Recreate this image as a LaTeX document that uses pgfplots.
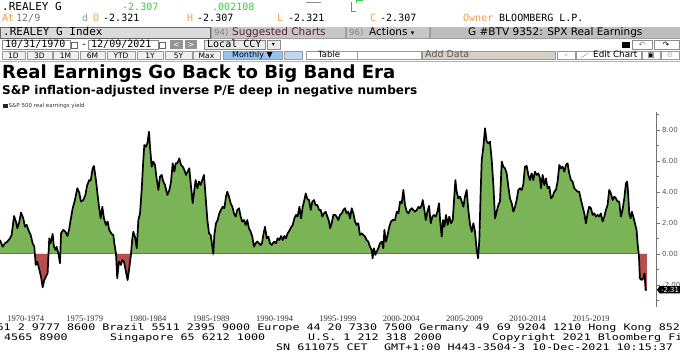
\documentclass[border=0pt]{standalone}
\usepackage{fontspec}
\setmainfont{DejaVu Sans}
\newfontfamily\bbg{DejaVu Sans Mono}
\newfontfamily\serifx{Liberation Serif}
\usepackage{pgfplots}
\usepackage{pgfplotstable}
\usetikzlibrary{shapes.symbols}
\pgfplotsset{compat=1.18}
\definecolor{bbgreen}{RGB}{122,180,86}
\definecolor{bbred}{RGB}{181,80,78}
\definecolor{bbor}{RGB}{245,158,70}
\definecolor{bbtick}{RGB}{60,205,60}
\definecolor{bbmaroon}{RGB}{90,35,50}
\newcommand\sz[1]{\fontsize{#1}{#1}\selectfont}
\newcommand\mono[1]{\fontsize{#1}{#1}\bbg}
\newcommand\bb[1]{\scalebox{1.3}[1]{\fontsize{9}{9}\bbg #1}}

\pgfplotstableread{
year val
1970.81 0.90
1971.02 0.47
1971.20 0.69
1971.39 0.80
1971.60 1.01
1971.73 1.23
1971.92 2.45
1972.07 2.09
1972.18 1.66
1972.34 2.09
1972.47 2.67
1972.65 2.30
1972.78 1.76
1972.92 1.88
1973.05 1.55
1973.23 1.23
1973.39 0.69
1973.52 0.47
1973.63 -0.71
1973.76 -0.49
1973.92 -1.03
1974.05 -1.46
1974.18 -2.15
1974.31 -1.68
1974.44 -1.46
1974.57 -1.25
1974.70 1.01
1974.81 0.69
1974.97 1.29
1975.07 0.47
1975.20 0.26
1975.28 0.47
1975.42 0.04
1975.55 -0.60
1975.63 1.33
1975.81 1.55
1975.97 1.44
1976.13 1.16
1976.26 1.55
1976.39 2.19
1976.55 2.95
1976.70 3.38
1976.92 4.24
1977.07 3.96
1977.20 3.38
1977.39 3.48
1977.55 3.80
1977.70 4.45
1977.86 4.77
1977.97 4.73
1978.13 5.53
1978.23 5.68
1978.39 4.77
1978.52 3.80
1978.63 3.05
1978.76 2.30
1978.89 3.05
1979.02 2.30
1979.18 1.87
1979.31 2.09
1979.44 1.55
1979.63 1.29
1979.76 1.23
1979.84 0.69
1979.97 0.04
1980.07 -1.57
1980.20 -0.49
1980.36 -0.71
1980.47 -0.39
1980.60 -0.49
1980.73 -1.03
1980.89 -1.68
1981.02 -0.92
1981.15 -0.06
1981.25 0.90
1981.34 1.44
1981.47 1.12
1981.61 0.37
1981.74 2.19
1981.87 2.62
1982.00 4.13
1982.13 6.06
1982.21 7.03
1982.34 6.92
1982.45 7.14
1982.58 7.89
1982.66 6.92
1982.79 5.63
1982.92 5.96
1983.05 5.74
1983.18 4.88
1983.32 4.13
1983.45 4.99
1983.58 5.10
1983.71 4.67
1983.84 4.45
1984.03 3.81
1984.19 4.13
1984.32 4.67
1984.45 5.85
1984.58 5.31
1984.69 5.85
1984.82 5.85
1984.97 6.17
1985.11 5.74
1985.24 5.63
1985.37 5.42
1985.50 5.10
1985.63 5.31
1985.76 5.53
1985.90 4.34
1986.03 3.27
1986.16 4.13
1986.26 4.77
1986.40 4.24
1986.53 4.67
1986.66 4.45
1986.79 4.77
1986.92 5.10
1987.05 3.70
1987.19 2.19
1987.32 1.33
1987.45 1.23
1987.58 0.47
1987.66 0.00
1987.74 1.23
1987.87 1.98
1988.00 2.19
1988.13 2.62
1988.26 2.84
1988.40 3.05
1988.53 2.95
1988.66 3.70
1988.76 4.02
1988.90 3.70
1989.03 3.27
1989.16 3.05
1989.29 2.62
1989.42 2.41
1989.55 2.84
1989.69 2.95
1989.82 2.41
1989.95 2.09
1990.08 2.19
1990.21 1.87
1990.34 2.19
1990.47 1.66
1990.61 1.44
1990.74 1.12
1990.87 0.47
1991.00 0.69
1991.13 0.80
1991.26 0.69
1991.40 0.58
1991.50 0.69
1991.61 1.23
1991.74 1.76
1991.88 1.01
1992.01 1.12
1992.14 0.69
1992.27 0.58
1992.46 0.80
1992.61 0.69
1992.74 1.01
1992.88 0.90
1993.01 1.16
1993.14 0.90
1993.27 1.16
1993.40 1.01
1993.53 1.33
1993.67 1.51
1993.80 1.72
1993.93 1.87
1994.06 2.30
1994.19 2.52
1994.32 2.41
1994.46 3.05
1994.59 2.30
1994.72 3.05
1994.85 3.48
1994.96 3.91
1995.09 3.53
1995.22 3.48
1995.35 2.84
1995.48 3.38
1995.61 3.48
1995.74 3.16
1995.88 3.16
1996.01 2.84
1996.14 2.84
1996.27 2.41
1996.40 2.62
1996.53 2.73
1996.67 2.41
1996.80 2.09
1996.88 1.66
1997.01 1.98
1997.14 2.52
1997.27 2.52
1997.40 2.41
1997.53 2.19
1997.67 2.52
1997.80 2.62
1997.93 2.84
1998.06 2.95
1998.19 2.62
1998.32 2.73
1998.46 2.30
1998.59 2.95
1998.72 2.62
1998.85 2.09
1998.98 1.87
1999.11 1.98
1999.24 1.23
1999.38 1.33
1999.51 1.23
1999.64 1.12
1999.77 0.90
1999.90 0.80
2000.03 0.47
2000.17 0.26
2000.24 -0.28
2000.35 0.37
2000.46 -0.06
2000.56 0.15
2000.69 0.37
2000.82 0.69
2000.96 0.80
2001.09 0.37
2001.17 1.55
2001.30 0.80
2001.43 1.23
2001.56 1.76
2001.69 2.09
2001.82 2.19
2002.01 2.19
2002.15 2.73
2002.28 2.62
2002.41 3.38
2002.54 3.27
2002.67 4.13
2002.80 3.16
2002.94 2.73
2003.07 2.62
2003.20 2.84
2003.33 2.95
2003.46 2.84
2003.59 2.73
2003.73 2.84
2003.86 3.05
2003.99 2.95
2004.12 3.16
2004.20 3.48
2004.33 2.84
2004.44 2.19
2004.57 2.73
2004.70 3.10
2004.83 1.98
2004.96 2.41
2005.09 2.52
2005.23 2.41
2005.36 2.73
2005.49 3.27
2005.57 2.19
2005.70 1.12
2005.80 2.19
2005.91 1.76
2006.04 2.52
2006.17 1.87
2006.30 2.41
2006.44 1.98
2006.57 2.19
2006.70 3.81
2006.78 4.77
2006.88 4.02
2007.01 3.59
2007.15 3.70
2007.28 3.38
2007.41 3.05
2007.54 3.70
2007.67 4.13
2007.80 2.84
2007.94 1.87
2008.07 1.44
2008.20 1.98
2008.33 1.44
2008.46 0.26
2008.57 -0.28
2008.67 0.90
2008.78 4.13
2008.86 6.06
2008.99 6.92
2009.12 8.11
2009.25 7.25
2009.38 7.14
2009.51 7.25
2009.65 6.06
2009.78 4.45
2009.91 2.30
2010.04 2.73
2010.17 3.16
2010.30 3.38
2010.44 5.96
2010.57 5.63
2010.70 5.53
2010.83 5.20
2010.96 4.34
2011.09 3.59
2011.23 3.27
2011.36 2.73
2011.49 3.05
2011.62 3.48
2011.75 4.13
2011.88 4.24
2012.01 4.13
2012.14 4.45
2012.27 5.63
2012.41 5.68
2012.54 5.10
2012.67 4.77
2012.80 5.20
2012.93 4.77
2013.06 5.31
2013.20 5.10
2013.33 5.20
2013.46 4.88
2013.54 4.24
2013.67 5.10
2013.80 4.45
2013.93 4.88
2014.06 4.24
2014.20 4.34
2014.33 3.59
2014.46 3.70
2014.59 4.02
2014.72 4.13
2014.85 4.67
2014.99 5.74
2015.12 5.53
2015.25 5.63
2015.38 5.31
2015.51 5.74
2015.64 5.85
2015.77 5.20
2015.91 4.77
2016.04 4.67
2016.17 4.24
2016.30 4.13
2016.43 4.02
2016.56 4.02
2016.70 3.48
2016.83 3.05
2016.96 2.62
2017.09 1.98
2017.22 2.62
2017.35 3.05
2017.49 2.95
2017.62 2.52
2017.75 2.62
2017.88 2.41
2018.01 2.52
2018.14 2.41
2018.27 2.62
2018.41 2.09
2018.54 2.41
2018.67 2.84
2018.80 3.16
2018.93 4.13
2019.06 3.91
2019.20 3.48
2019.33 3.70
2019.46 3.59
2019.59 3.38
2019.72 3.38
2019.85 2.41
2019.98 2.84
2020.12 3.59
2020.25 4.56
2020.35 4.67
2020.43 3.81
2020.51 2.62
2020.62 2.30
2020.72 2.73
2020.83 2.41
2020.96 1.98
2021.09 1.55
2021.17 0.69
2021.28 -0.17
2021.35 -1.57
2021.49 -1.68
2021.62 -1.57
2021.72 -1.25
2021.80 -2.32
2021.90 -2.31
}\realey

\begin{document}
\begin{tikzpicture}[T/.style={anchor=base west, inner sep=0pt}]
\useasboundingbox (0pt,0pt) rectangle (680pt,363pt);
\begin{scope}[x=1pt,y=1pt]
\fill[white] (0,0) rectangle (680,363);

% ---- Row 1
\node[T] at (2,352) {\mono{11}.REALEY G};
\node[T, text=bbtick] at (122,352) {\mono{10}-2.307};
\node[T, text=bbtick] at (212,352) {\mono{10}.002108};
\draw[black!45] (306,361) -- (321,361);
\draw[red!70, line width=0.6pt] (351.7,360.5) -- (351.7,351.3) -- (356,351.3);
\draw[bbtick, line width=0.6pt] (356,359.5) -- (356,362.3) -- (363,362.3);

% ---- Row 2
\node[T, text=bbor] at (2,341) {\mono{10}At};
\node[T, text=black!55] at (16,341) {\mono{10}12/9};
\node[T, text=black!40] at (82,341) {\mono{10}d};
\node[T, text=bbor] at (93,341) {\mono{10}O};
\node[T] at (103,341) {\mono{10}-2.321};
\node[T, text=bbor] at (187,341) {\mono{10}H};
\node[T] at (197,341) {\mono{10}-2.307};
\node[T, text=bbor] at (277,341) {\mono{10}L};
\node[T] at (288,341) {\mono{10}-2.321};
\node[T, text=bbor] at (370,341) {\mono{10}C};
\node[T] at (380,341) {\mono{10}-2.307};
\node[T, text=bbor] at (463,341) {\mono{10}Owner};
\node[T] at (499,341) {\mono{10}BLOOMBERG L.P.};

% ---- Row 3
\fill[black!38] (0,324) rectangle (680,336);
\filldraw[fill=black!14, draw=black!60] (0.5,324.5) rectangle (210,335.5);
\node[T] at (3,327) {\mono{11}.REALEY G Index};
\fill[black!22] (212,324.5) rectangle (345,335.5);
\node[T, text=black!50] at (214,327) {\sz{8.5}94)};
\node[T, text=bbmaroon] at (232,327) {\sz{10.5}Suggested Charts};
\fill[black!22] (347,324.5) rectangle (429,335.5);
\node[T, text=black!50] at (349,327) {\sz{8.5}96)};
\node[T] at (369,327) {\sz{10.5}Actions {\sz{7}▾}};
\fill[black!26] (431,324.5) rectangle (680,335.5);
\node[T] at (468,327) {\sz{10.5}G \#BTV 9352: SPX Real Earnings};

% ---- Row 4
\draw[black!45, fill=white] (2,313.5) rectangle (70,322.5);
\node[T] at (5,315.5) {\mono{10}10/31/1970};
\draw[black!60] (71,314.5) rectangle (77,321);
\node[T] at (81,315.5) {\mono{10}-};
\draw[black!45, fill=white] (88,313.5) rectangle (158,322.5);
\node[T] at (91,315.5) {\mono{10}12/09/2021};
\draw[black!60] (159,314.5) rectangle (165,321);
\fill[black!42] (170,313.5) rectangle (183,322.5);
\node[text=white] at (176.5,318) {\sz{8}<};
\fill[black!42] (185,313.5) rectangle (197,322.5);
\node[text=white] at (191,318) {\sz{8}>};
\filldraw[fill=black!8, draw=black!45] (204,313.5) rectangle (265,322.5);
\node[T] at (207,315.5) {\mono{10}Local CCY};
\filldraw[fill=black!8, draw=black!45] (267,313.5) rectangle (280,322.5);
\node at (273.5,318) {\sz{6}▾};
\fill[black] (622,315) rectangle (630,320.5);
\draw[black!45] (632,313.5) rectangle (652,322.5);
\node[text=black!50] at (642,318) {\sz{8}↶};
\draw[black!45] (654,313.5) rectangle (679,322.5);
\node at (666,318) {\sz{8}↷};

% ---- Row 5
\foreach \a/\b/\t in {2/25/1D,27/52/3D,53/78/1M,80/105/6M,107/135/YTD,137/163/1Y,165/192/5Y,193/220/Max}{
  \filldraw[fill=black!6, draw=black!40] (\a,303.5) rectangle (\b,311.5);
  \node at ({(\a+\b)/2},307.5) {\sz{7.5}\t};
}
\filldraw[fill={rgb,255:red,150;green,195;blue,240}, draw=black!40] (223,303.5) rectangle (282,311.5);
\node at (252.5,307.5) {\sz{8}Monthly ▼};
\filldraw[fill={rgb,255:red,190;green,215;blue,245}, draw=black!40] (284,303.5) rectangle (302,311.5);
\draw[black!40] (306,303.5) rectangle (357,311.5);
\node[T] at (318,305) {\sz{8.5}Table};
\draw[black!40] (357,303.5) rectangle (421,311.5);
\filldraw[fill={rgb,255:red,214;green,209;blue,200}, draw=black!40] (422,303.5) rectangle (555,311.5);
\node[T, text=black!65] at (425,305) {\sz{9.5}Add Data};
\draw[black!40] (557,303.5) rectangle (575,311.5);
\node[text=black!30] at (566,307.5) {\sz{7}«};
\draw[black!40] (576,303.5) rectangle (641,311.5);
\draw[black!45] (581,305) -- (588,310);
\node[T] at (593,305) {\sz{8.8}Edit Chart};
\draw[black!40] (642,303.5) rectangle (660,311.5);
\node at (651,307.5) {\sz{7}▣};
\draw[black!40] (661,303.5) rectangle (679.5,311.5);
\node[text=black!30] at (670,307.5) {\sz{7}⚙};
\draw[black!30] (0,302) -- (680,302);

% ---- Titles
\node[T] at (2,284) {\resizebox{393pt}{!}{\bfseries Real Earnings Go Back to Big Band Era}};
\node[T] at (2,268.7) {\resizebox{415pt}{!}{\bfseries S\&P inflation-adjusted inverse P/E deep in negative numbers}};
\fill[black!85] (3,254.5) rectangle (7.5,259);
\node[anchor=west, inner sep=0pt, text=black!80] at (8.5,256.7) {\sz{5.5}S\&P 500 real earnings yield};

% ---- Footer rows
\node[T] at (-3.5,32) {\bb{61 2 9777 8600 Brazil 5511 2395 9000 Europe 44 20 7330 7500 Germany 49 69 9204 1210 Hong Kong 852 2977 6000}};
\node[T] at (4,22) {\bb{4565 8900}};
\node[T] at (110,22) {\bb{Singapore 65 6212 1000}};
\node[T] at (308,22) {\bb{U.S. 1 212 318 2000}};
\node[T] at (492,22) {\bb{Copyright 2021 Bloomberg Finance L.P.}};
\node[T] at (276,12) {\bb{SN 611075 CET}};
\node[T] at (384,12) {\bb{GMT+1:00 H443-3504-3 10-Dec-2021 10:15:37}};
\end{scope}

% ---- Chart: positive fill (clipped at zero)
\begin{axis}[
  at={(0pt,109.01pt)}, anchor=south west,
  scale only axis, width=656.7pt, height=141.99pt,
  xmin=1970.81, xmax=2022.68, ymin=0, ymax=9.16,
  hide axis,
]
\addplot[fill=bbgreen, draw=none] table[x=year, y=val] {\realey} -- (axis cs:2021.90,0) -- (axis cs:1970.81,0) -- cycle;
\end{axis}
% ---- negative fill (clipped at zero)
\begin{axis}[
  at={(0pt,56pt)}, anchor=south west,
  scale only axis, width=656.7pt, height=53.01pt,
  xmin=1970.81, xmax=2022.68, ymin=-3.42, ymax=0,
  hide axis,
]
\addplot[fill=bbred, draw=none] table[x=year, y=val] {\realey} -- (axis cs:2021.90,0) -- (axis cs:1970.81,0) -- cycle;
\end{axis}
% ---- main axis with line and ticks
\begin{axis}[
  at={(0pt,56pt)}, anchor=south west,
  scale only axis, width=656.7pt, height=195pt,
  xmin=1970.81, xmax=2022.68, ymin=-3.42, ymax=9.16,
  axis y line*=right, axis x line*=bottom,
  x axis line style={draw=none},
  y axis line style={draw=black!55, line width=0.6pt},
  tick align=outside,
  major tick length=3pt, minor tick length=2pt,
  xtick={1972.85,1977.5,1982.5,1987.5,1992.5,1997.5,2002.5,2007.5,2012.5,2017.5},
  xticklabels={1970-1974,1975-1979,1980-1984,1985-1989,1990-1994,1995-1999,2000-2004,2005-2009,2010-2014,2015-2019},
  x tick style={draw=none},
  extra x ticks={1975,1980,1985,1990,1995,2000,2005,2010,2015,2020},
  extra x tick labels={},
  extra x tick style={major tick length=17pt, tick style={draw=black!10, line width=0.6pt}},
  xticklabel style={font=\serifx\sz{8.5}, text=black!80, yshift=-2.5pt},
  ytick={-2,0,2,4,6,8}, minor ytick={-3,-1,1,3,5,7,9},
  y tick style={draw=black!55, line width=0.5pt},
  yticklabel style={font=\sz{7}, text=black!65, xshift=-1pt, /pgf/number format/fixed, /pgf/number format/fixed zerofill, /pgf/number format/precision=2, /pgf/number format/assume math mode=true},
  scaled y ticks=false,
]
\addplot[black, line width=1.7pt, line join=round] table[x=year, y=val] {\realey};
\coordinate (lab) at (axis cs:2022.68,-2.31);
\end{axis}
\node[signal, signal to=west, signal pointer angle=110, fill=black, text=white, inner xsep=1.5pt, inner ysep=1pt, anchor=west, font=\sz{7}] at (lab) {-2.31};
\end{tikzpicture}
\end{document}
